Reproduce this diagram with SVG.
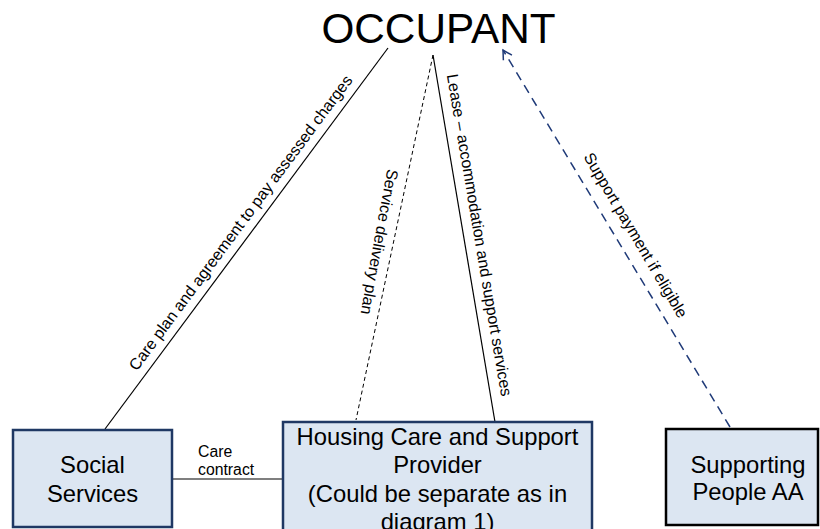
<svg xmlns="http://www.w3.org/2000/svg" width="820" height="529" viewBox="0 0 820 529">
<style>
text{font-family:"Liberation Sans",Arial,sans-serif;fill:#000}
.box{fill:#dce6f2;stroke-width:2.5}
.big{font-size:23.8px;text-anchor:middle}
.lbl{font-size:16px;text-anchor:middle}
.solid{stroke:#000;stroke-width:1.2;fill:none}
.dash{stroke:#000;stroke-width:1;stroke-dasharray:4 3;fill:none}
.bdash{stroke:#1f3a78;stroke-width:1.5;stroke-dasharray:9 6;fill:none}
</style>
<defs>
<marker id="open" markerWidth="12" markerHeight="12" refX="10" refY="6" orient="auto" markerUnits="userSpaceOnUse">
<path d="M1,1 L10,6 L1,11" fill="none" stroke="#1f3a78" stroke-width="1.5"/>
</marker>
</defs>
<g id="connectors">
<line class="solid" x1="105" y1="429" x2="388" y2="48"/>
<line class="dash" x1="433" y1="55" x2="356" y2="420"/>
<line class="solid" x1="433" y1="55" x2="495" y2="422"/>
<line class="bdash" x1="730" y1="427" x2="503" y2="50" marker-end="url(#open)"/>
<line class="solid" x1="172" y1="479" x2="283" y2="479"/>
<text class="lbl" transform="translate(245,226) rotate(-53.4)">Care plan and agreement to pay assessed charges</text>
<text class="lbl" transform="translate(374,241) rotate(100.5)">Service delivery plan</text>
<text class="lbl" transform="translate(474,236) rotate(80.4)">Lease – accommodation and support services</text>
<text class="lbl" transform="translate(631,238) rotate(59.5)">Support payment if eligible</text>
<text x="198" y="457" font-size="15.8">Care</text>
<text x="198" y="475" font-size="15.8">contract</text>
</g>
<g id="occupant">
<text x="438.5" y="43" font-size="42.3" text-anchor="middle">OCCUPANT</text>
</g>
<g id="social-services">
<rect class="box" x="13" y="430" width="159" height="97" stroke="#1f3864"/>
<text class="big" x="92.5" y="473">Social</text>
<text class="big" x="92.5" y="502">Services</text>
</g>
<g id="provider">
<rect class="box" x="283" y="422" width="309" height="112" stroke="#1f3864"/>
<text class="big" x="437.5" y="445">Housing Care and Support</text>
<text class="big" x="437.5" y="473">Provider</text>
<text class="big" x="437.5" y="502">(Could be separate as in</text>
<text class="big" x="437.5" y="530">diagram 1)</text>
</g>
<g id="supporting-people">
<rect class="box" x="666" y="429" width="152" height="96" stroke="#000"/>
<text class="big" x="748" y="473">Supporting</text>
<text class="big" x="748" y="500">People AA</text>
</g>
</svg>
